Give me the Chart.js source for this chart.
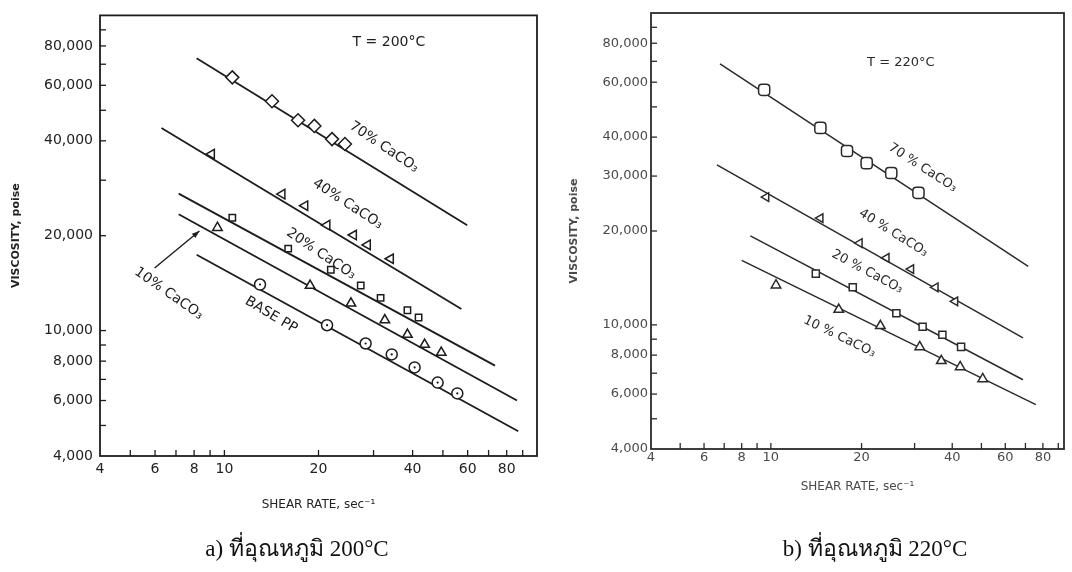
<!DOCTYPE html>
<html>
<head>
<meta charset="utf-8">
<script src="https://cdn.jsdelivr.net/npm/chart.js@4.4.1/dist/chart.umd.min.js"></script>
<style>
  html, body { margin: 0; padding: 0; background: #fff; }
  body { width: 1072px; height: 572px; position: relative; overflow: hidden; }
  .panel { position: absolute; top: 0; height: 572px; }
  .caption {
    position: absolute; top: 530px; transform: translateX(-50%);
    font-family: "Liberation Serif", "DejaVu Serif", serif; font-size: 23px;
    color: #111; white-space: nowrap;
  }
</style>
</head>
<body>
<div class="panel" style="left:0;width:545px"><canvas id="chart200"></canvas></div>
<div class="panel" style="left:545px;width:527px"><canvas id="chart220"></canvas></div>
<div class="caption" style="left:297px">a) ที่อุณหภูมิ 200°C</div>
<div class="caption" style="left:875px">b) ที่อุณหภูมิ 220°C</div>
<script>
// values: shear rate in 1/s, viscosity in poise
// --- T = 200 C ---
const rate200_70 = [10.6, 14.2, 17.2, 19.4, 22.1, 24.3];
const visc200_70 = [63600, 53400, 46500, 44600, 40500, 39100];
const rate200_40 = [9.1, 15.3, 18.1, 21.3, 25.9, 28.7, 34.0];
const visc200_40 = [36300, 27100, 24900, 21600, 20100, 18700, 16900];
const rate200_20 = [10.6, 16.0, 21.9, 27.3, 31.6, 38.5, 41.8];
const visc200_20 = [22800, 18200, 15600, 13900, 12700, 11600, 11000];
const rate200_10 = [9.5, 18.8, 25.4, 32.6, 38.5, 43.7, 49.4];
const visc200_10 = [21200, 13900, 12200, 10800, 9710, 9030, 8520];
const rate200_pp = [13.0, 21.3, 28.3, 34.3, 40.6, 48.1, 55.6];
const visc200_pp = [14000, 10400, 9100, 8400, 7640, 6840, 6320];
// fitted lines (end points)
const fitRate200_70 = [8.15, 59.8],  fitVisc200_70 = [73100, 21600];
const fitRate200_40 = [6.29, 57.3],  fitVisc200_40 = [43900, 11700];
const fitRate200_20 = [7.14, 73.4],  fitVisc200_20 = [27200, 7740];
const fitRate200_10 = [7.14, 86.3],  fitVisc200_10 = [23400, 6000];
const fitRate200_pp = [8.15, 87.1],  fitVisc200_pp = [17400, 4790];

// --- T = 220 C ---
const rate220_70 = [9.5, 14.6, 17.9, 20.8, 25.1, 30.9];
const visc220_70 = [56700, 42800, 36100, 33000, 30700, 26500];
const rate220_40 = [9.65, 14.6, 19.7, 24.2, 29.2, 35.2, 40.9];
const visc220_40 = [25700, 22000, 18300, 16400, 15100, 13200, 11900];
const rate220_20 = [14.1, 18.7, 26.1, 31.9, 37.1, 42.8];
const visc220_20 = [14600, 13200, 10900, 9860, 9300, 8500];
const rate220_10 = [10.4, 16.8, 23.1, 31.2, 36.8, 42.5, 50.5];
const visc220_10 = [13400, 11200, 9930, 8500, 7670, 7330, 6710];
const fitRate220_70 = [6.78, 71.5],  fitVisc220_70 = [68700, 15400];
const fitRate220_40 = [6.62, 68.7],  fitVisc220_40 = [32600, 9080];
const fitRate220_20 = [8.55, 68.7],  fitVisc220_20 = [19300, 6670];
const fitRate220_10 = [8.0, 75.8],   fitVisc220_10 = [16100, 5550];

// axis ticks
const rateTicks = [4, 5, 6, 7, 8, 9, 10, 20, 30, 40, 50, 60, 70, 80, 90];
const rateLabels = [4, 6, 8, 10, 20, 40, 60, 80];
const viscTicks = [4000, 5000, 6000, 7000, 8000, 9000, 10000, 20000, 30000, 40000, 50000, 60000, 70000, 80000, 90000];
const viscLabels200 = [4000, 6000, 8000, 10000, 20000, 40000, 60000, 80000];
const viscLabels220 = [4000, 6000, 8000, 10000, 20000, 30000, 40000, 60000, 80000];

const FONT = "'DejaVu Sans', 'Liberation Sans', sans-serif";

function pts(xs, ys) {
    return xs.map((x, i) => ({ x: x, y: ys[i] }));
}

function fitLine(xs, ys, color, width) {
    return {
        type: 'line', data: pts(xs, ys), borderColor: color, borderWidth: width,
        pointRadius: 0, fill: false, tension: 0, order: 2
    };
}

function marks(xs, ys, style, radius, rotation, color) {
    return {
        type: 'scatter', data: pts(xs, ys), pointStyle: style, pointRadius: radius,
        pointRotation: rotation, pointBackgroundColor: '#fff', pointBorderColor: color,
        pointBorderWidth: 1.5, order: 1
    };
}

function dots(xs, ys, color) {
    return {
        type: 'scatter', data: pts(xs, ys), pointStyle: 'circle', pointRadius: 1.1,
        pointBackgroundColor: color, pointBorderWidth: 0, order: 0
    };
}

// frame round the plot + tick marks pointing inwards
const framePlugin = {
    id: 'frame',
    afterDraw(chart, args, o) {
        const { ctx, chartArea: a } = chart;
        const x = chart.scales.x, y = chart.scales.y;
        ctx.save();
        ctx.strokeStyle = o.color;
        ctx.lineWidth = o.width;
        ctx.strokeRect(a.left, a.top, a.right - a.left, a.bottom - a.top);
        ctx.lineWidth = 1.3;
        x.ticks.forEach(t => {
            const px = x.getPixelForValue(t.value);
            if (px <= a.left + 1 || px >= a.right - 1) return;
            ctx.beginPath();
            ctx.moveTo(px, a.bottom);
            ctx.lineTo(px, a.bottom - o.tick);
            ctx.stroke();
        });
        y.ticks.forEach(t => {
            const py = y.getPixelForValue(t.value);
            if (py <= a.top + 1 || py >= a.bottom - 1) return;
            ctx.beginPath();
            ctx.moveTo(a.left, py);
            ctx.lineTo(a.left + o.tick, py);
            ctx.stroke();
        });
        ctx.restore();
    }
};

// labels written on the plot, placed in data coordinates
const notesPlugin = {
    id: 'notes',
    afterDatasetsDraw(chart, args, o) {
        const { ctx } = chart;
        const x = chart.scales.x, y = chart.scales.y;
        ctx.save();
        ctx.fillStyle = o.color;
        ctx.strokeStyle = o.color;
        o.items.forEach(n => {
            if (n.arrow) {
                const x0 = x.getPixelForValue(n.arrow[0]), y0 = y.getPixelForValue(n.arrow[1]);
                const x1 = x.getPixelForValue(n.arrow[2]), y1 = y.getPixelForValue(n.arrow[3]);
                const ang = Math.atan2(y1 - y0, x1 - x0);
                ctx.lineWidth = 1.4;
                ctx.beginPath();
                ctx.moveTo(x0, y0);
                ctx.lineTo(x1, y1);
                ctx.stroke();
                ctx.beginPath();
                ctx.moveTo(x1, y1);
                ctx.lineTo(x1 - 8 * Math.cos(ang - 0.35), y1 - 8 * Math.sin(ang - 0.35));
                ctx.lineTo(x1 - 8 * Math.cos(ang + 0.35), y1 - 8 * Math.sin(ang + 0.35));
                ctx.closePath();
                ctx.fill();
                return;
            }
            ctx.save();
            ctx.translate(x.getPixelForValue(n.x), y.getPixelForValue(n.y));
            ctx.rotate((n.angle || 0) * Math.PI / 180);
            ctx.font = (n.size || o.size) + 'px ' + FONT;
            ctx.textAlign = 'center';
            ctx.textBaseline = 'middle';
            ctx.fillText(n.text, 0, 0);
            ctx.restore();
        });
        ctx.restore();
    }
};

function makeChart(id, cfg) {
    const ctx = document.getElementById(id).getContext('2d');
    return new Chart(ctx, {
        data: { datasets: cfg.datasets },
        options: {
            responsive: true,
            maintainAspectRatio: false,
            animation: false,
            devicePixelRatio: 1,
            layout: { padding: { top: 13, right: cfg.padRight, left: 0, bottom: 0 } },
            plugins: {
                legend: { display: false },
                tooltip: { enabled: false },
                frame: { color: cfg.ink, width: 1.8, tick: 6 },
                notes: { items: cfg.notes, color: cfg.ink, size: 14 }
            },
            scales: {
                x: {
                    type: 'logarithmic', min: 4, max: cfg.xMax,
                    grid: { display: false, drawTicks: false }, border: { display: false },
                    afterBuildTicks: s => { s.ticks = rateTicks.map(v => ({ value: v })); },
                    afterFit: s => { s.height = cfg.xHeight; },
                    ticks: {
                        autoSkip: false, maxRotation: 0, padding: cfg.xPad,
                        color: cfg.tickColor, font: { family: FONT, size: cfg.tickSize },
                        callback: v => rateLabels.includes(v) ? String(v) : ''
                    },
                    title: {
                        display: true, text: 'SHEAR RATE, sec⁻¹', color: cfg.tickColor,
                        font: { family: FONT, size: 12 }, padding: { top: 0, bottom: cfg.xTitlePad }
                    }
                },
                y: {
                    type: 'logarithmic', min: 4000, max: 100000,
                    grid: { display: false, drawTicks: false }, border: { display: false },
                    afterBuildTicks: s => { s.ticks = viscTicks.map(v => ({ value: v })); },
                    afterFit: s => { s.width = cfg.yWidth; },
                    ticks: {
                        autoSkip: false, padding: cfg.yPad,
                        color: cfg.tickColor, font: { family: FONT, size: cfg.tickSize },
                        callback: v => cfg.yLabels.includes(v) ? v.toLocaleString('en-US') : ''
                    },
                    title: {
                        display: true, text: 'VISCOSITY, poise', color: cfg.tickColor,
                        font: { family: FONT, size: 11, weight: 'bold' }, padding: { top: cfg.yTitlePad, bottom: 0 }
                    }
                }
            }
        },
        plugins: [framePlugin, notesPlugin]
    });
}

document.addEventListener('DOMContentLoaded', function () {
    const ink1 = '#1c1c1c';
    makeChart('chart200', {
        ink: ink1, tickColor: '#222', tickSize: 14,
        xMax: 100, padRight: 6, xHeight: 116, yWidth: 100,
        xPad: 5, yPad: 7, xTitlePad: 60, yTitlePad: 10,
        yLabels: viscLabels200,
        datasets: [
            marks(rate200_70, visc200_70, 'rectRot', 6.5, 0, ink1),
            marks(rate200_40, visc200_40, 'triangle', 5.5, -90, ink1),
            marks(rate200_20, visc200_20, 'rect', 4.5, 0, ink1),
            marks(rate200_10, visc200_10, 'triangle', 5.5, 0, ink1),
            marks(rate200_pp, visc200_pp, 'circle', 5.5, 0, ink1),
            dots(rate200_pp, visc200_pp, ink1),
            fitLine(fitRate200_70, fitVisc200_70, ink1, 1.8),
            fitLine(fitRate200_40, fitVisc200_40, ink1, 1.8),
            fitLine(fitRate200_20, fitVisc200_20, ink1, 1.8),
            fitLine(fitRate200_10, fitVisc200_10, ink1, 1.8),
            fitLine(fitRate200_pp, fitVisc200_pp, ink1, 1.8)
        ],
        notes: [
            { text: 'T = 200°C', x: 33.6, y: 82200 },
            { text: '70% CaCO₃', x: 32.4, y: 38200, angle: 34 },
            { text: '40% CaCO₃', x: 24.8, y: 25200, angle: 33 },
            { text: '20% CaCO₃', x: 20.4, y: 17500, angle: 34 },
            { text: '10% CaCO₃', x: 6.64, y: 13100, angle: 35 },
            { text: 'BASE PP', x: 14.1, y: 11200, angle: 31 },
            { arrow: [5.98, 15800, 8.32, 20700] }
        ]
    });

    const ink2 = '#2a2a2a';
    makeChart('chart220', {
        ink: ink2, tickColor: '#4a4a4a', tickSize: 13,
        xMax: 94, padRight: 2, xHeight: 123, yWidth: 106,
        xPad: 1, yPad: 3, xTitlePad: 78, yTitlePad: 23,
        yLabels: viscLabels220,
        datasets: [
            marks(rate220_70, visc220_70, 'rectRounded', 6.5, 0, ink2),
            marks(rate220_40, visc220_40, 'triangle', 5, -90, ink2),
            marks(rate220_20, visc220_20, 'rect', 5, 0, ink2),
            marks(rate220_10, visc220_10, 'triangle', 5.5, 0, ink2),
            fitLine(fitRate220_70, fitVisc220_70, ink2, 1.5),
            fitLine(fitRate220_40, fitVisc220_40, ink2, 1.5),
            fitLine(fitRate220_20, fitVisc220_20, ink2, 1.5),
            fitLine(fitRate220_10, fitVisc220_10, ink2, 1.5)
        ],
        notes: [
            { text: 'T = 220°C', x: 27.0, y: 69200, size: 13 },
            { text: '70 % CaCO₃', x: 31.9, y: 31900, angle: 33, size: 13 },
            { text: '40 % CaCO₃', x: 25.5, y: 19700, angle: 32, size: 13 },
            { text: '20 % CaCO₃', x: 20.9, y: 14800, angle: 28, size: 13 },
            { text: '10 % CaCO₃', x: 16.9, y: 9160, angle: 26, size: 13 }
        ]
    });
});
</script>
</body>
</html>
